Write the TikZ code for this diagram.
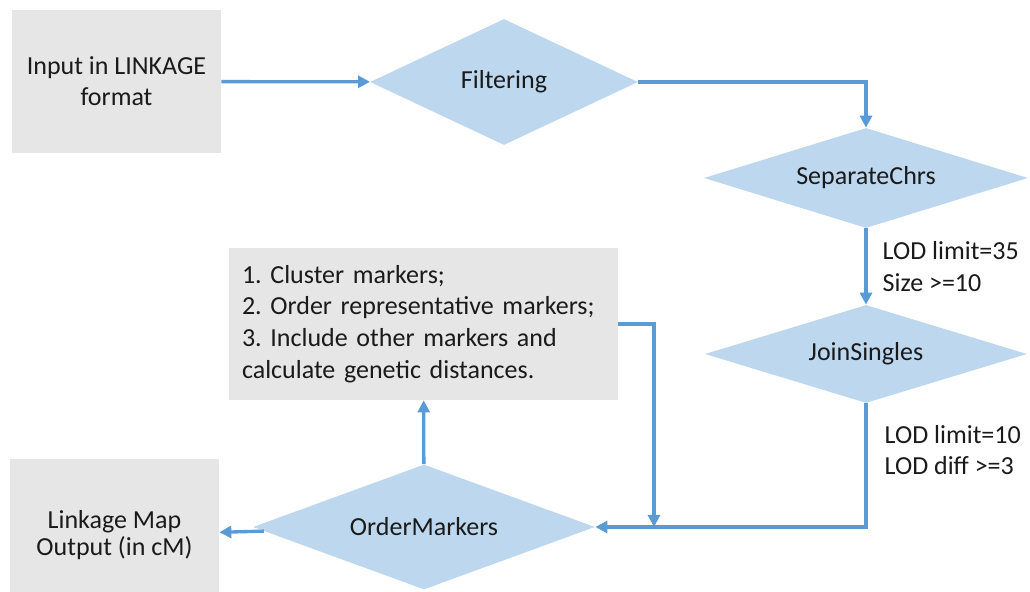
\documentclass[tikz,border=0pt]{standalone}
\usepackage{fontspec}
\setmainfont{Carlito}
\frenchspacing
\usetikzlibrary{positioning,arrows.meta,shapes.geometric}
\definecolor{flowline}{HTML}{5B9BD5}
\definecolor{flowfill}{HTML}{BDD7EE}
\definecolor{boxgray}{HTML}{E6E6E6}
\definecolor{inkdark}{HTML}{1A1A1A}

\begin{document}
\begin{tikzpicture}[font=\fontsize{14.8}{17.8}\selectfont, text=inkdark,
  >={Triangle[length=2.4mm,width=2.4mm]},
  gbox/.style={fill=boxgray, align=center, inner sep=0pt},
  dia/.style={diamond, fill=flowfill, aspect=3.2, inner sep=0pt},
  arr/.style={->, color=flowline, line width=1.9pt},
  lbl/.style={align=left, inner sep=0pt, text=inkdark}
]
  \useasboundingbox (0,0) rectangle (20.6,-11.84);

  \node[gbox, minimum width=4.18cm, minimum height=2.86cm] (in) at (2.33,-1.63) {Input in LINKAGE\\format};
  \node[dia, minimum width=5.36cm, minimum height=2.52cm] (filt) at (10.08,-1.64) {Filtering};
  \node[dia, minimum width=6.48cm, minimum height=2.0cm] (sep) at (17.32,-3.56) {SeparateChrs};
  \node[dia, minimum width=6.44cm, minimum height=1.96cm] (join) at (17.32,-7.08) {JoinSingles};
  \node[dia, minimum width=6.84cm, minimum height=2.5cm] (ord) at (8.48,-10.54) {OrderMarkers};
  \node[gbox, align=left, text width=7.26cm, inner xsep=0.26cm, minimum height=3.04cm,
        font=\fontsize{14.8}{18}\selectfont] (clu) at (8.47,-6.48)
    {1. Cluster markers;\\2. Order representative markers;\\3. Include other markers and\\calculate genetic distances.};
  \node[gbox, minimum width=4.18cm, minimum height=3.04cm,
        font=\fontsize{14.8}{15.5}\selectfont] (out) at (2.29,-10.7) {Linkage Map\\Output (in cM)};
  \coordinate (mrg) at (13.08,-10.54);

  \draw[arr] (in) -- (filt);
  \draw[arr] (filt.east) -| (sep.north);
  \draw[arr] (sep) -- node[lbl, right=0.3cm] {LOD limit=35\\Size >=10} (join);
  \draw[arr] (join.south) |- node[lbl, pos=0.19, right=0.34cm] {LOD limit=10\\LOD diff >=3} (ord.east);
  \draw[arr] (clu.east) -| (mrg);
  \draw[arr] (ord) -- (clu);
  \draw[arr] (ord) -- (out);
\end{tikzpicture}
\end{document}
